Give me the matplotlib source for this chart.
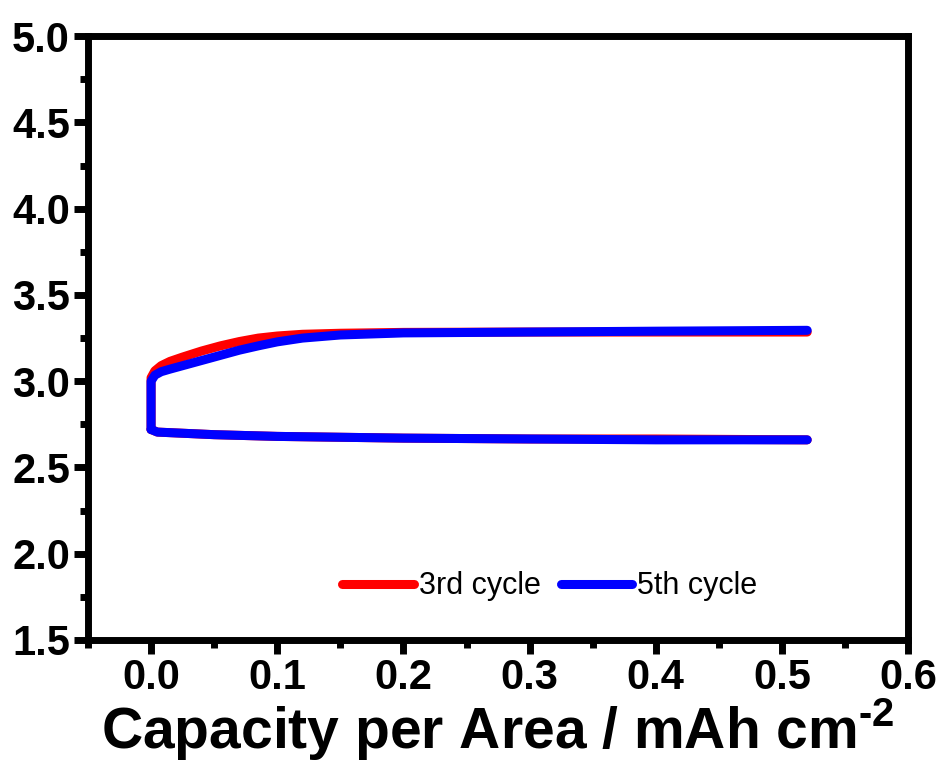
import matplotlib.pyplot as plt
import numpy as np
from matplotlib.ticker import MultipleLocator

plt.rcParams['font.family'] = ['Liberation Sans', 'DejaVu Sans']
plt.rcParams['mathtext.fontset'] = 'custom'
plt.rcParams['mathtext.rm'] = 'Liberation Sans:bold'
plt.rcParams['mathtext.bf'] = 'Liberation Sans:bold'

# Dados
cap_charge_3 = [0.0, 0.0, 0.003, 0.008, 0.015, 0.025, 0.04, 0.055, 0.07, 0.085, 0.10, 0.12, 0.15, 0.20, 0.30, 0.40, 0.52]
v_charge_3 = [2.72, 3.02, 3.06, 3.09, 3.115, 3.14, 3.175, 3.205, 3.23, 3.25, 3.262, 3.272, 3.278, 3.283, 3.285, 3.285, 3.285]
cap_dis_3 = [0.0, 0.005, 0.02, 0.05, 0.10, 0.20, 0.30, 0.40, 0.52]
v_dis_3 = [2.72, 2.705, 2.70, 2.69, 2.68, 2.67, 2.665, 2.665, 2.66]

cap_charge_5 = [0.0, 0.0, 0.003, 0.008, 0.015, 0.025, 0.04, 0.055, 0.07, 0.085, 0.10, 0.12, 0.15, 0.20, 0.30, 0.40, 0.52]
v_charge_5 = [2.72, 3.00, 3.035, 3.055, 3.07, 3.09, 3.12, 3.15, 3.18, 3.205, 3.228, 3.25, 3.268, 3.28, 3.285, 3.29, 3.295]
cap_dis_5 = [0.0, 0.005, 0.02, 0.05, 0.10, 0.20, 0.30, 0.40, 0.52]
v_dis_5 = [2.72, 2.705, 2.70, 2.69, 2.68, 2.67, 2.665, 2.66, 2.66]

fig = plt.figure(figsize=(9.46, 7.71), dpi=100)
ax = fig.add_axes([0.093, 0.170, 0.867, 0.783])

ax.plot(cap_charge_3, v_charge_3, color='red', lw=6.5, solid_capstyle='round', solid_joinstyle='round', label='3rd cycle')
ax.plot(cap_dis_3, v_dis_3, color='red', lw=6.5, solid_capstyle='round', solid_joinstyle='round')
ax.plot(cap_charge_5, v_charge_5, color='blue', lw=6.5, solid_capstyle='round', solid_joinstyle='round', label='5th cycle')
ax.plot(cap_dis_5, v_dis_5, color='blue', lw=6.5, solid_capstyle='round', solid_joinstyle='round')

ax.set_xlim(-0.05, 0.6)
ax.set_ylim(1.5, 5.0)
ax.xaxis.set_major_locator(MultipleLocator(0.1))
ax.xaxis.set_minor_locator(MultipleLocator(0.05))
ax.yaxis.set_major_locator(MultipleLocator(0.5))
ax.yaxis.set_minor_locator(MultipleLocator(0.25))

for s in ax.spines.values():
    s.set_linewidth(5)
ax.tick_params(which='major', length=10, width=5, direction='out', labelsize=30, pad=3)
ax.tick_params(which='minor', length=6, width=5, direction='out')
for lab in ax.get_xticklabels() + ax.get_yticklabels():
    lab.set_fontweight('bold')

ax.set_xlabel('Capacity per Area / mAh cm$^{\\text{-2}}$', fontsize=41, fontweight='bold', labelpad=-1)

ax.legend(loc='center', bbox_to_anchor=(0.563, 0.089), ncol=2, frameon=False, fontsize=22,
          handlelength=2.35, handletextpad=0.16, columnspacing=0.65)

fig.savefig('out.png', dpi=100)
